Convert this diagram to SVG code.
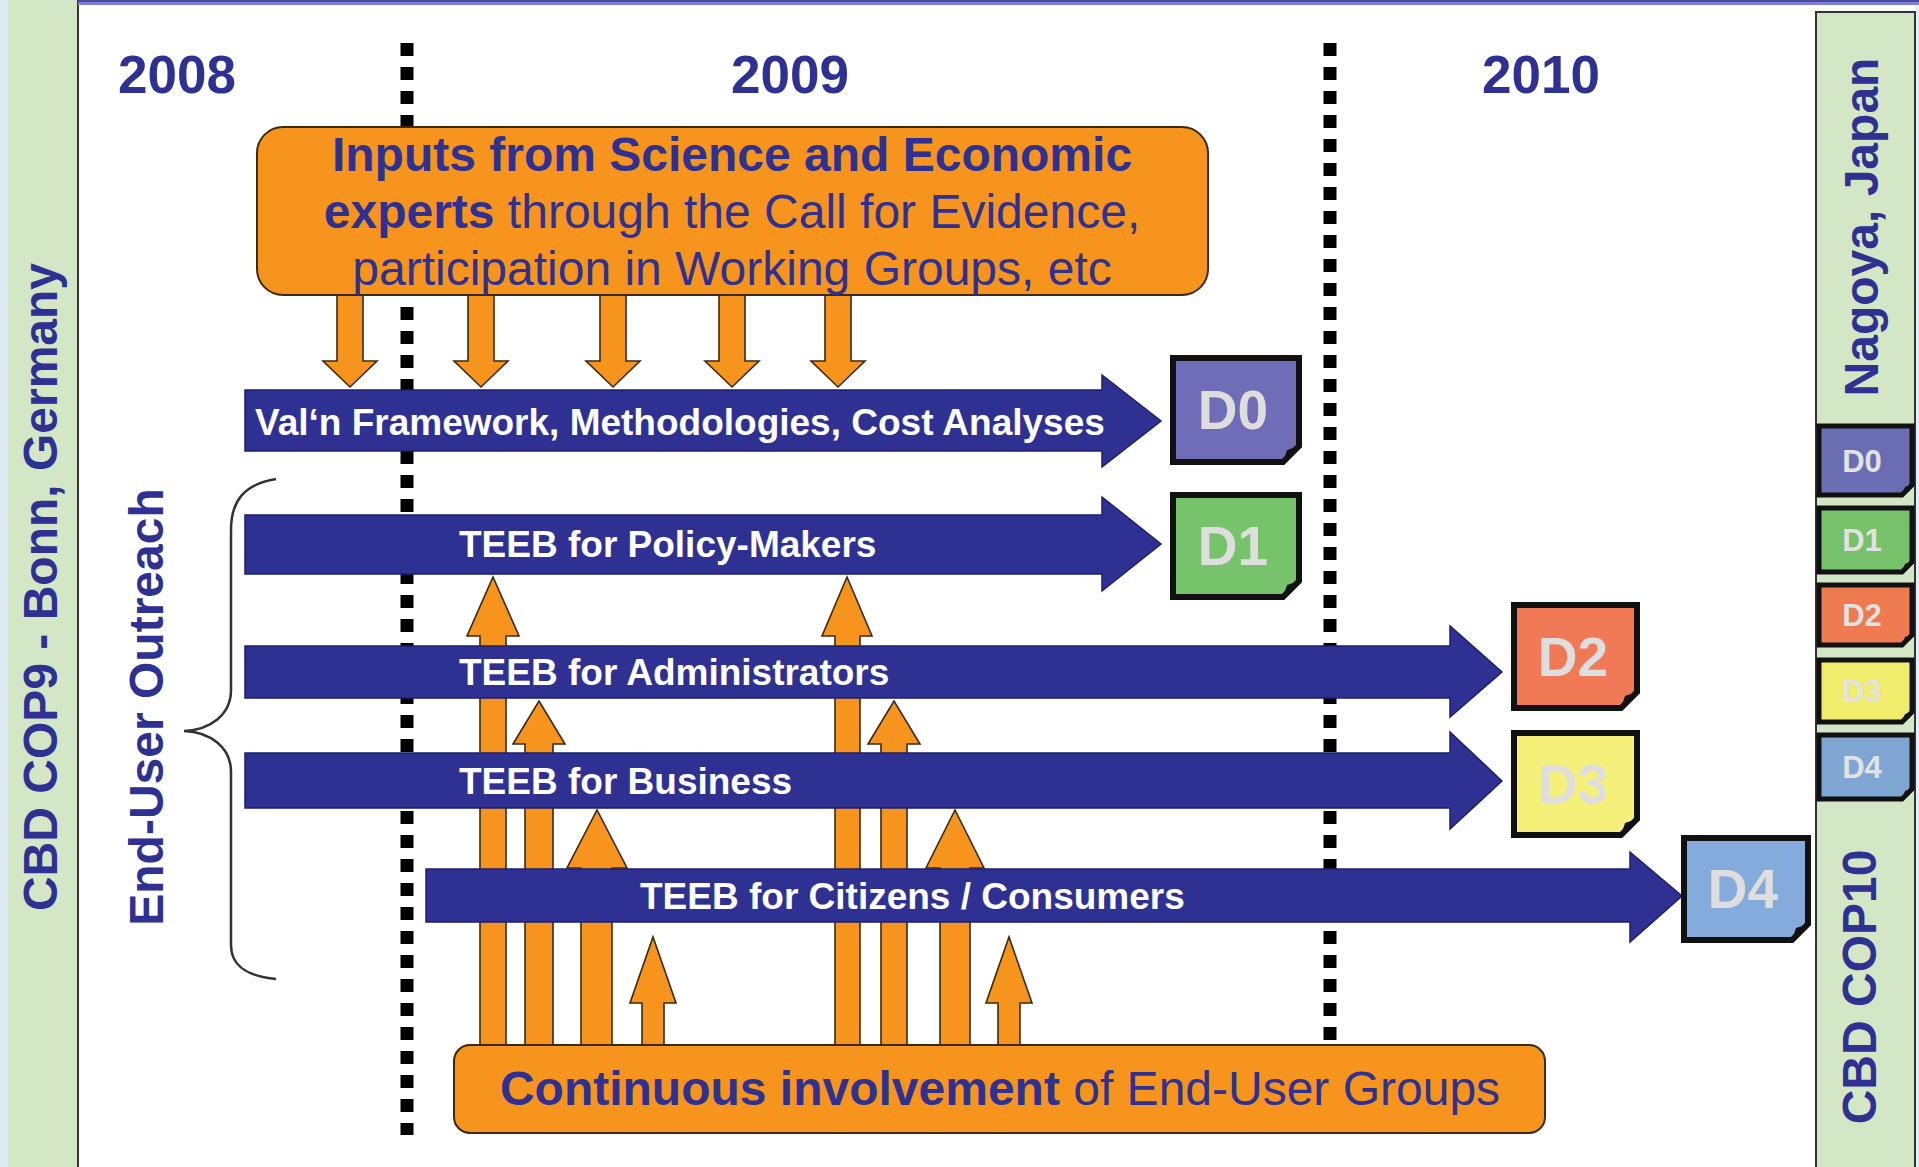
<svg xmlns="http://www.w3.org/2000/svg" width="1919" height="1167" viewBox="0 0 1919 1167">
<style>
text{font-family:"Liberation Sans",Arial,sans-serif}
.yr{font-size:53px;font-weight:bold;fill:#2E3192;text-anchor:middle}
.vt{font-size:48px;font-weight:bold;fill:#2E3192;text-anchor:middle}
.box{fill:#F7941D;stroke:#3a2a10;stroke-width:2}
.btx{font-size:48px;fill:#2E3192;text-anchor:middle}
.b{font-weight:bold}
.bar{fill:#2E3192;stroke:#1c1f6e;stroke-width:1.5}
.bart{font-size:37px;font-weight:bold;fill:#ffffff}
.oa{fill:#F7941D;stroke:#3a2a10;stroke-width:1.6;stroke-linejoin:miter}
.doc{stroke:#111;stroke-width:6;stroke-linejoin:miter}
.tile{stroke:#111;stroke-width:5;stroke-linejoin:miter}
.curl{fill:#111}
.dt{font-size:55px;font-weight:bold;fill:#dedede;text-anchor:middle}
.st{font-size:31px;font-weight:bold;fill:#e2e2e2;text-anchor:middle}
.dash{stroke:#000;stroke-width:13;stroke-dasharray:13 11;fill:none}
</style>
<rect x="0" y="0" width="1919" height="1167" fill="#ffffff"/>
<g id="frame">
<rect x="0" y="0" width="8" height="1167" fill="#dde9f5"/>
<rect x="8" y="0" width="70" height="1167" fill="#d3e7c6"/>
<line x1="78" y1="0" x2="78" y2="1167" stroke="#333" stroke-width="2"/>
<rect x="78" y="0" width="1841" height="5" fill="#8080d4"/>
<line x1="78" y1="1" x2="1919" y2="1" stroke="#4a4aa0" stroke-width="2"/>
<rect x="1915" y="5" width="4" height="1162" fill="#e4eef8"/>
<rect x="1816" y="12" width="99" height="1160" fill="#d3e7c6" stroke="#333" stroke-width="2"/>
</g>
<g id="timeline">
<line class="dash" x1="407" y1="43" x2="407" y2="1135"/>
<line class="dash" x1="1330" y1="43" x2="1330" y2="1040"/>
<text class="yr" x="177" y="93">2008</text>
<text class="yr" x="790" y="93">2009</text>
<text class="yr" x="1541" y="93">2010</text>
</g>
<g id="side-labels">
<text class="vt" transform="translate(57,587) rotate(-90)">CBD COP9 - Bonn, Germany</text>
<text class="vt" transform="translate(163,707) rotate(-90)">End-User Outreach</text>
<text class="vt" transform="translate(1878,227) rotate(-90)">Nagoya, Japan</text>
<text class="vt" transform="translate(1876,987) rotate(-90)">CBD COP10</text>
<path d="M276,479 C245,484 231,500 231,530 L231,690 C231,715 210,730 184,731 C210,732 231,747 231,772 L231,945 C231,965 245,976 276,979" fill="none" stroke="#333" stroke-width="2.5"/>
</g>
<g id="connectors">
<polygon class="oa" points="337,290 363,290 363,361 377,361 350,387 323,361 337,361"/>
<polygon class="oa" points="468,290 494,290 494,361 508,361 481,387 454,361 468,361"/>
<polygon class="oa" points="600,290 626,290 626,361 640,361 613,387 586,361 600,361"/>
<polygon class="oa" points="719,290 745,290 745,361 759,361 732,387 705,361 719,361"/>
<polygon class="oa" points="825,290 851,290 851,361 865,361 838,387 811,361 825,361"/>
<polygon class="oa" points="480,1050 480,636 467,636 493,577 519,636 506,636 506,1050"/>
<polygon class="oa" points="525,1050 525,744 513,744 539,701 565,744 553,744 553,1050"/>
<polygon class="oa" points="581,1050 581,868 567,868 597,810 627,868 612,868 612,1050"/>
<polygon class="oa" points="642,1050 642,1003 630,1003 653,937 676,1003 664,1003 664,1050"/>
<polygon class="oa" points="835,1050 835,636 822,636 847,577 872,636 860,636 860,1050"/>
<polygon class="oa" points="881,1050 881,744 868,744 894,701 920,744 907,744 907,1050"/>
<polygon class="oa" points="940,1050 940,868 926,868 955,810 984,868 970,868 970,1050"/>
<polygon class="oa" points="998,1050 998,1003 986,1003 1009,937 1032,1003 1020,1003 1020,1050"/>
</g>
<g id="inputs-box">
<rect class="box" x="257" y="127" width="951" height="168" rx="26"/>
<text class="btx" x="732" y="171"><tspan class="b">Inputs from Science and Economic</tspan></text>
<text class="btx" x="732" y="228"><tspan class="b">experts</tspan> through the Call for Evidence,</text>
<text class="btx" x="732" y="285">participation in Working Groups, etc</text>
</g>
<g id="bar-valn">
<polygon class="bar" points="245,390 1102,390 1102,375 1161,421 1102,467 1102,451 245,451"/>
<text class="bart" x="255" y="435">Val‘n Framework, Methodologies, Cost Analyses</text>
</g>
<g id="bar-policy">
<polygon class="bar" points="245,515 1102,515 1102,497 1161,544 1102,591 1102,574 245,574"/>
<text class="bart" x="459" y="557">TEEB for Policy-Makers</text>
</g>
<g id="bar-admin">
<polygon class="bar" points="245,646 1450,646 1450,626 1502,672 1450,717 1450,698 245,698"/>
<text class="bart" x="459" y="685">TEEB for Administrators</text>
</g>
<g id="bar-business">
<polygon class="bar" points="245,753 1450,753 1450,732 1502,781 1450,829 1450,808 245,808"/>
<text class="bart" x="459" y="794">TEEB for Business</text>
</g>
<g id="bar-citizens">
<polygon class="bar" points="426,869 1630,869 1630,852 1682,896 1630,942 1630,922 426,922"/>
<text class="bart" x="640" y="909">TEEB for Citizens / Consumers</text>
</g>
<g id="involvement-box">
<rect class="box" x="454" y="1045" width="1091" height="88" rx="16"/>
<text class="btx" x="1000" y="1105"><tspan class="b">Continuous involvement</tspan> of End-User Groups</text>
</g>
<g id="D0">
<path class="doc" fill="#6F6DB8" d="M1173,358 H1299 V446 L1283,462 H1173 Z"/>
<polygon class="curl" points="1283,462 1287,450 1299,446"/>
<text class="dt" x="1233" y="429">D0</text>
</g>
<g id="D1">
<path class="doc" fill="#77C36B" d="M1173,495 H1299 V581 L1283,597 H1173 Z"/>
<polygon class="curl" points="1283,597 1287,585 1299,581"/>
<text class="dt" x="1233" y="565">D1</text>
</g>
<g id="D2">
<path class="doc" fill="#EF7A55" d="M1514,605 H1637 V692 L1621,708 H1514 Z"/>
<polygon class="curl" points="1621,708 1625,696 1637,692"/>
<text class="dt" x="1573" y="676">D2</text>
</g>
<g id="D3">
<path class="doc" fill="#F5F07A" d="M1514,733 H1637 V819 L1621,835 H1514 Z"/>
<polygon class="curl" points="1621,835 1625,823 1637,819"/>
<text class="dt" x="1573" y="803">D3</text>
</g>
<g id="D4">
<path class="doc" fill="#85AADC" d="M1684,838 H1808 V924 L1792,940 H1684 Z"/>
<polygon class="curl" points="1792,940 1796,928 1808,924"/>
<text class="dt" x="1743" y="908">D4</text>
</g>
<g id="legend">
<path class="tile" fill="#6B6DB3" d="M1819,426 H1912 V485 L1902,495 H1819 Z"/>
<polygon class="curl" points="1902,495 1905,487 1912,485"/>
<text class="st" x="1862" y="472">D0</text>
<path class="tile" fill="#77C16A" d="M1819,508 H1912 V562 L1902,572 H1819 Z"/>
<polygon class="curl" points="1902,572 1905,564 1912,562"/>
<text class="st" x="1862" y="551">D1</text>
<path class="tile" fill="#EE7A50" d="M1819,585 H1912 V635 L1902,645 H1819 Z"/>
<polygon class="curl" points="1902,645 1905,637 1912,635"/>
<text class="st" x="1862" y="626">D2</text>
<path class="tile" fill="#F0EC6C" d="M1819,660 H1912 V712 L1902,722 H1819 Z"/>
<polygon class="curl" points="1902,722 1905,714 1912,712"/>
<text class="st" x="1862" y="702">D3</text>
<path class="tile" fill="#7FA6D3" d="M1819,735 H1912 V789 L1902,799 H1819 Z"/>
<polygon class="curl" points="1902,799 1905,791 1912,789"/>
<text class="st" x="1862" y="778">D4</text>
</g>
</svg>
